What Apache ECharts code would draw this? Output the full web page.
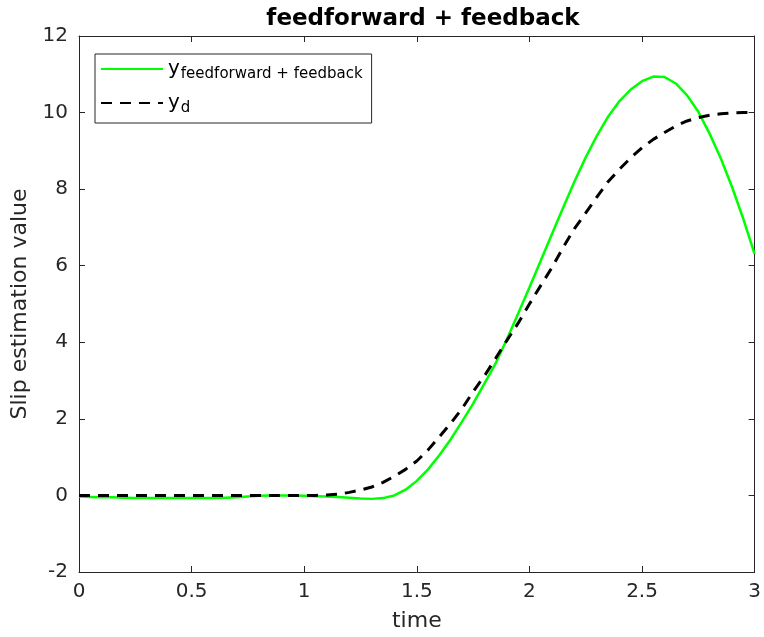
<!DOCTYPE html>
<html>
<head>
<meta charset="utf-8">
<script src="https://cdn.jsdelivr.net/npm/echarts@6/dist/echarts.min.js"></script>
<style>html,body{margin:0;padding:0;background:#fff;}#c{width:764px;height:637px;}</style>
</head>
<body>
<div id="c"></div>
<script>
const time = [0,0.05,0.1,0.15,0.2,0.25,0.3,0.35,0.4,0.45,0.5,0.55,0.6,0.65,0.7,0.75,0.8,0.85,0.9,0.95,1.0,1.05,1.1,1.15,1.2,1.25,1.3,1.35,1.4,1.45,1.5,1.55,1.6,1.65,1.7,1.75,1.8,1.85,1.9,1.95,2.0,2.05,2.1,2.15,2.2,2.25,2.3,2.35,2.4,2.45,2.5,2.55,2.6,2.65,2.7,2.75,2.8,2.85,2.9,2.95,3.0];
const yFF = [-0.03,-0.04,-0.05,-0.05,-0.06,-0.07,-0.07,-0.07,-0.07,-0.07,-0.07,-0.07,-0.07,-0.06,-0.05,-0.03,-0.01,0.0,0.0,0.0,-0.01,-0.02,-0.03,-0.04,-0.06,-0.08,-0.09,-0.07,0.0,0.15,0.38,0.68,1.05,1.46,1.92,2.4,2.92,3.45,4.08,4.75,5.43,6.13,6.83,7.52,8.2,8.83,9.4,9.9,10.3,10.6,10.82,10.94,10.93,10.76,10.45,10.02,9.45,8.8,8.05,7.22,6.3];
const yD = [0,0,0,0,0,0,0,0,0,0,0,0,0,0,0,0,0,0,0,0,0,0,0.01,0.03,0.08,0.14,0.22,0.34,0.5,0.68,0.9,1.19,1.53,1.88,2.26,2.71,3.12,3.58,4.05,4.5,5.0,5.48,5.95,6.48,6.97,7.38,7.8,8.2,8.52,8.82,9.08,9.3,9.48,9.65,9.78,9.87,9.93,9.97,9.99,10.0,10.0];
const xTicks = [0,0.5,1,1.5,2,2.5,3];
const yTicks = [-2,0,2,4,6,8,10,12];
const titleText = 'feedforward + feedback';
const xName = 'time';
const yName = 'Slip estimation value';

const font = 'DejaVu Sans';
const axisCol = '#262626';
const chart = echarts.init(document.getElementById('c'), null, {renderer:'canvas'});
const baseAxis = {
  axisLine:{show:true, onZero:false, lineStyle:{color:axisCol, width:1}},
  axisTick:{show:true, inside:true, length:6, lineStyle:{color:axisCol}},
  splitLine:{show:false}
};
chart.setOption({
  animation:false,
  backgroundColor:'#ffffff',
  title:{text:titleText, left:418, top:3, textAlign:'center',
    textStyle:{fontFamily:font, fontWeight:'bold', fontSize:23, color:'#000'}},
  legend:{
    orient:'vertical', left:95, top:54, itemWidth:62, itemHeight:14, itemGap:11,
    padding:[5,9,7,5], borderColor:axisCol, borderWidth:1, backgroundColor:'#fff',
    itemStyle:{color:'rgba(0,0,0,0)', borderColor:'rgba(0,0,0,0)', borderWidth:0},
    textStyle:{fontFamily:font, fontSize:20, color:'#000',
      rich:{s:{fontFamily:font, fontSize:15, color:'#000', verticalAlign:'bottom', padding:[11,0,0,1]}}},
    formatter:function(n){ return n === 'ff' ? 'y{s|feedforward + feedback}' : 'y{s|d}'; },
    data:['ff','d']
  },
  grid:{left:79, right:7, top:36, bottom:64},
  xAxis:[
    Object.assign({}, baseAxis, {type:'value', min:0, max:3, interval:0.5, position:'bottom',
      name:xName, nameLocation:'middle', nameGap:38,
      nameTextStyle:{fontFamily:font, fontSize:22, color:axisCol},
      axisLabel:{fontFamily:font, fontSize:20, color:axisCol, margin:10,
        formatter:function(v){ return xTicks.indexOf(v) >= 0 ? String(v) : ''; }}}),
    Object.assign({}, baseAxis, {type:'value', min:0, max:3, interval:0.5, position:'top',
      axisLabel:{show:false}})
  ],
  yAxis:[
    Object.assign({}, baseAxis, {type:'value', min:-2, max:12, interval:2, position:'left',
      name:yName, nameLocation:'middle', nameGap:47,
      nameTextStyle:{fontFamily:font, fontSize:22, color:axisCol},
      axisLabel:{fontFamily:font, fontSize:20, color:axisCol, margin:11,
        formatter:function(v){ return yTicks.indexOf(v) >= 0 ? String(v) : ''; }}}),
    Object.assign({}, baseAxis, {type:'value', min:-2, max:12, interval:2, position:'right',
      axisLabel:{show:false}})
  ],
  series:[
    {name:'ff', type:'line', xAxisIndex:0, yAxisIndex:0, showSymbol:false, symbol:'none', smooth:false,
      lineStyle:{color:'#00ff00', width:2.5}, itemStyle:{color:'#00ff00'},
      data: time.map((t,i)=>[t, yFF[i]]), z:2},
    {name:'d', type:'line', xAxisIndex:0, yAxisIndex:0, showSymbol:false, symbol:'none', smooth:false,
      lineStyle:{color:'#000000', width:3, type:[11,8]}, itemStyle:{color:'#000'},
      data: time.map((t,i)=>[t, yD[i]]), z:3}
  ]
});
</script>
</body>
</html>
